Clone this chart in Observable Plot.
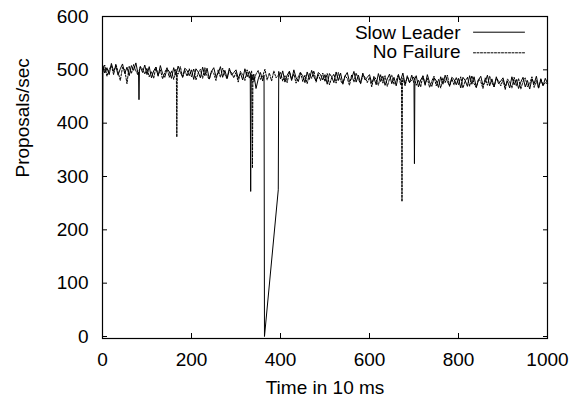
<!DOCTYPE html>
<html><head><meta charset="utf-8">
<script src="https://cdn.jsdelivr.net/npm/d3@7"></script>
<script src="https://cdn.jsdelivr.net/npm/@observablehq/plot@0.6"></script>
<style>body{margin:0;background:#fff} svg{display:block}</style>
</head><body><div id="chart"></div>
<script>
// samples every 5 time units (x = index * 5); null = no sample
const sampleStep = 5;
const slowLeader = [
170,494,504,491,512,497,507,490,502,511,493,505,489,508,499,513,492,506,495,509,
491,506,485,498,505,488,508,493,486,502,497,484,504,490,507,495,487,503,499,489,
500,482,502,496,485,505,489,503,483,497,504,487,493,506,486,499,484,503,490,495,
500,484,494,481,502,487,497,480,492,465,483,495,479,null,null,null,null,null,null,null,
483,498,477,490,497,480,500,485,478,494,489,476,496,482,499,487,479,495,491,481,
491,473,493,487,476,496,480,494,474,488,495,478,484,497,477,490,475,494,481,486,
491,475,485,472,493,478,488,471,483,492,474,486,470,489,480,494,473,487,476,490,
474,489,468,481,488,471,491,476,469,485,480,467,487,473,490,478,470,486,482,472,
484,466,486,480,469,489,473,487,467,481,488,471,477,490,470,483,468,487,474,479,
485,469,479,466,487,472,482,465,477,486,468,480,464,483,474,488,467,481,470,484,
475];
const noFailure = [
494,509,488,501,508,491,511,496,480,505,500,474,507,493,510,498,490,506,502,492,
503,487,497,484,505,490,500,483,495,504,486,498,482,501,492,506,485,499,488,502,
487,502,481,494,501,484,504,489,482,498,493,480,500,486,503,491,483,499,495,485,
495,477,497,491,480,500,484,498,478,492,499,482,488,501,481,494,479,498,485,490,
495,479,489,476,497,482,492,475,487,496,478,490,474,493,484,498,477,491,480,494,
478,493,472,485,492,475,495,480,473,489,484,471,491,477,494,482,474,490,486,476,
486,468,488,482,471,491,475,489,469,483,490,473,479,492,472,485,470,489,476,481,
487,471,481,468,489,474,484,467,479,488,470,482,466,485,476,490,469,483,472,486,
472,487,466,479,486,469,489,474,467,483,478,465,485,471,488,476,468,484,480,470,
481,463,483,477,466,486,470,484,464,478,485,468,474,487,467,480,465,484,471,476,
474];
// individual samples at the dips [time, proposals/sec]
const slowLeaderDips = [[1,508],[81,495],[82,444],[83,499],[332,492],[333,272],[334,491],
  [363,490],[364,0],[395,275],[396,497],[701,324],[702,483]];
const noFailureDips = [[166,496],[167,374],[168,493],[336,488],[337,316],[338,490],
  [672,480],[673,253],[674,477]];
const seriesNames = ["Slow Leader", "No Failure"];
const xTicks = [0, 200, 400, 600, 800, 1000];
const yTicks = [0, 100, 200, 300, 400, 500, 600];

function rows(base, dips, name) {
  const r = [];
  base.forEach((v, i) => { if (v !== null) r.push({t: i * sampleStep, v, s: name}); });
  dips.forEach(([t, v]) => r.push({t, v, s: name}));
  return r.sort((a, b) => a.t - b.t);
}
const slowRows = rows(slowLeader, slowLeaderDips, seriesNames[0]);
const noFailRows = rows(noFailure, noFailureDips, seriesNames[1]);

const lineShape = {draw(context, l) { context.moveTo(0, 0); context.lineTo(0, -l); }};

const chart = Plot.plot({
  width: 582, height: 400,
  marginLeft: 102, marginRight: 35, marginTop: 16, marginBottom: 62,
  style: {fontSize: "19px", fontFamily: "'Liberation Sans', Arial, Helvetica, sans-serif", color: "#000", background: "#fff"},
  x: {domain: [0, 1000]},
  y: {domain: [-3.75, 600]},
  marks: [
    Plot.line(noFailRows, {x: "t", y: "v", stroke: "#000", strokeWidth: 1, strokeDasharray: "2,1.5"}),
    Plot.line(slowRows, {x: "t", y: "v", stroke: "#000", strokeWidth: 1}),
    Plot.frame({stroke: "#000", strokeWidth: 1.2}),
    Plot.axisX({anchor: "bottom", ticks: xTicks, tickSize: -5, fill: "none", label: null}),
    Plot.axisX({anchor: "top", ticks: xTicks, tickSize: -5, fill: "none", label: null}),
    Plot.axisY({anchor: "left", ticks: yTicks, tickSize: -5, fill: "none", label: null}),
    Plot.axisY({anchor: "right", ticks: yTicks, tickSize: -5, fill: "none", label: null}),
    Plot.axisX({anchor: "bottom", ticks: xTicks, tickSize: 0, tickPadding: 14, tickFormat: d3.format("d"), label: null}),
    Plot.axisY({anchor: "left", ticks: yTicks, tickSize: 0, tickPadding: 14, tickFormat: d3.format("d"), label: null}),
    Plot.text(["Time in 10 ms"], {frameAnchor: "bottom", dy: 49, lineAnchor: "middle", fill: "#000"}),
    Plot.text(["Proposals/sec"], {frameAnchor: "left", rotate: -90, dx: -80, lineAnchor: "middle", fill: "#000"}),
    Plot.text([seriesNames[0]], {frameAnchor: "top-right", textAnchor: "end", lineAnchor: "middle", dx: -87, dy: 16.5, fill: "#000"}),
    Plot.text([seriesNames[1]], {frameAnchor: "top-right", textAnchor: "end", lineAnchor: "middle", dx: -87, dy: 35.5, fill: "#000"}),
    Plot.vector([seriesNames[0]], {frameAnchor: "top-right", dx: -74, dy: 15.7, length: 51, rotate: 90, anchor: "start", shape: lineShape, stroke: "#000", strokeWidth: 1}),
    Plot.vector([seriesNames[1]], {frameAnchor: "top-right", dx: -74, dy: 36.3, length: 51, rotate: 90, anchor: "start", shape: lineShape, stroke: "#000", strokeWidth: 1, strokeDasharray: "2,1.5"})
  ]
});
document.getElementById("chart").appendChild(chart);
</script>
</body></html>
